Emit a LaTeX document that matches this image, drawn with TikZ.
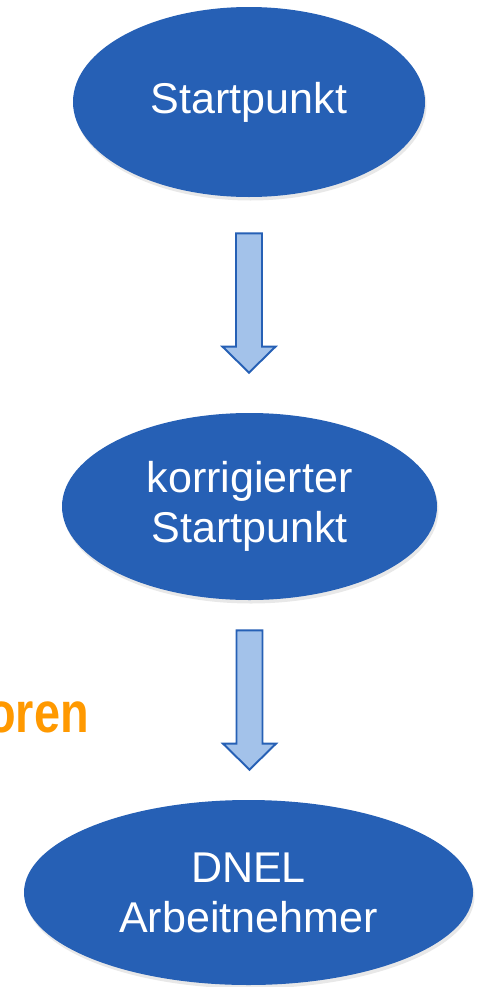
\documentclass[tikz,border=0pt]{standalone}
\usepackage{fontspec}
\setmainfont{Liberation Sans}
\usetikzlibrary{positioning, calc, shapes.geometric, shadows}
\definecolor{kblue}{RGB}{38,96,181}
\definecolor{klightblue}{RGB}{163,194,234}
\definecolor{korange}{RGB}{255,153,0}

\tikzset{
    stepnode/.style={ellipse, fill=kblue, draw=none, text=white, align=center,
        font=\fontsize{24.5}{28.5}\selectfont, inner sep=0pt,
        drop shadow={opacity=0.18, shadow xshift=0.03cm, shadow yshift=-0.07cm}},
    blockarrow/.style={draw=kblue, fill=klightblue, line width=1.1pt, line join=miter}
}

% block arrow between two nodes: #3 gap below first, #4 gap above second
\newcommand{\blockarr}[4]{%
    \draw[blockarrow] let \p1=($(#1.south)+(0,-#3)$), \p2=($(#2.north)+(0,#4)$) in
        (\x1-0.26cm,\y1) -- (\x1+0.26cm,\y1) -- (\x1+0.26cm,\y2+0.52cm)
        -- (\x1+0.53cm,\y2+0.52cm) -- (\x1,\y2) -- (\x1-0.53cm,\y2+0.52cm)
        -- (\x1-0.26cm,\y2+0.52cm) -- cycle;}

\begin{document}
\begin{tikzpicture}
        \useasboundingbox (0,0) rectangle (9.58,-19.74);

        % three steps
        \node[stepnode, minimum width=7.04cm, minimum height=3.8cm] (start) at (4.98,-2.04) {Startpunkt};
        \node[stepnode, minimum width=7.5cm, minimum height=3.74cm] (korr) at (4.99,-10.13) {korrigierter\\Startpunkt};
        \node[stepnode, minimum width=8.98cm, minimum height=3.7cm] (dnel) at (4.97,-17.85) {DNEL\\Arbeitnehmer};

        % arrows
        \blockarr{start}{korr}{0.72cm}{0.8cm}
        \blockarr{korr}{dnel}{0.6cm}{0.6cm}

        % cut label on the left
        \node[anchor=base east, inner sep=0pt, text=korange, xscale=0.82, transform shape,
              font=\fontsize{32.5}{36}\selectfont\bfseries] (faktor) at (1.78,-14.64) {oren};
\end{tikzpicture}
\end{document}
